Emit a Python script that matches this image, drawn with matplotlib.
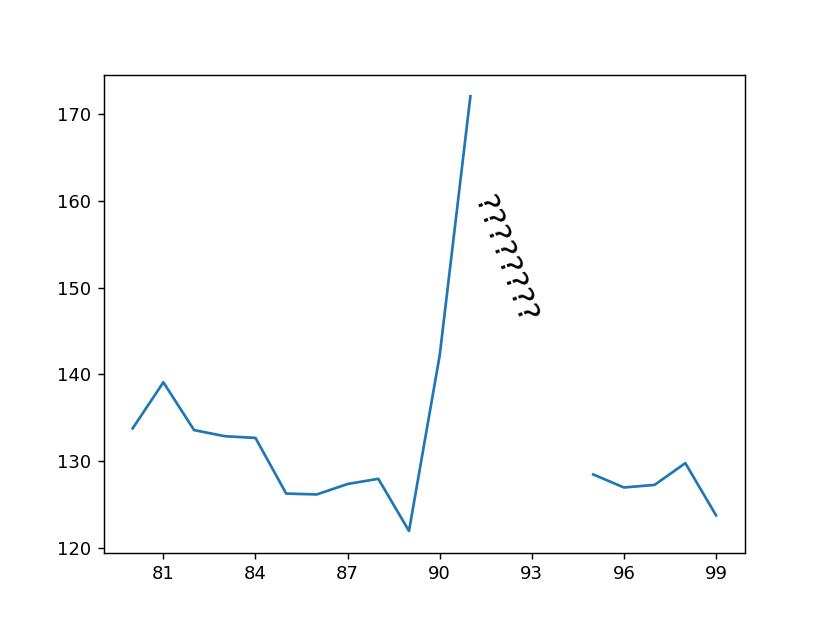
import numpy as np
import matplotlib
matplotlib.use("Agg")
import matplotlib.pyplot as plt

years = list(range(80, 100))
values = [133.8, 139.1, 133.6, 132.9, 132.7, 126.3, 126.2, 127.4, 128.0, 122.0,
          142.2, 172.0, np.nan, np.nan, np.nan, 128.5, 127.0, 127.3, 129.8, 123.8]
xticks = [81, 84, 87, 90, 93, 96, 99]
label = "????????"

fig, ax = plt.subplots(figsize=(6.4, 4.8), dpi=129.375)
ax.plot(years, values)
ax.set_xticks(xticks)
ax.text(92.1, 153.2, label, rotation=-70, ha="center", va="center", fontsize=17.5)
fig.savefig("out.png")
